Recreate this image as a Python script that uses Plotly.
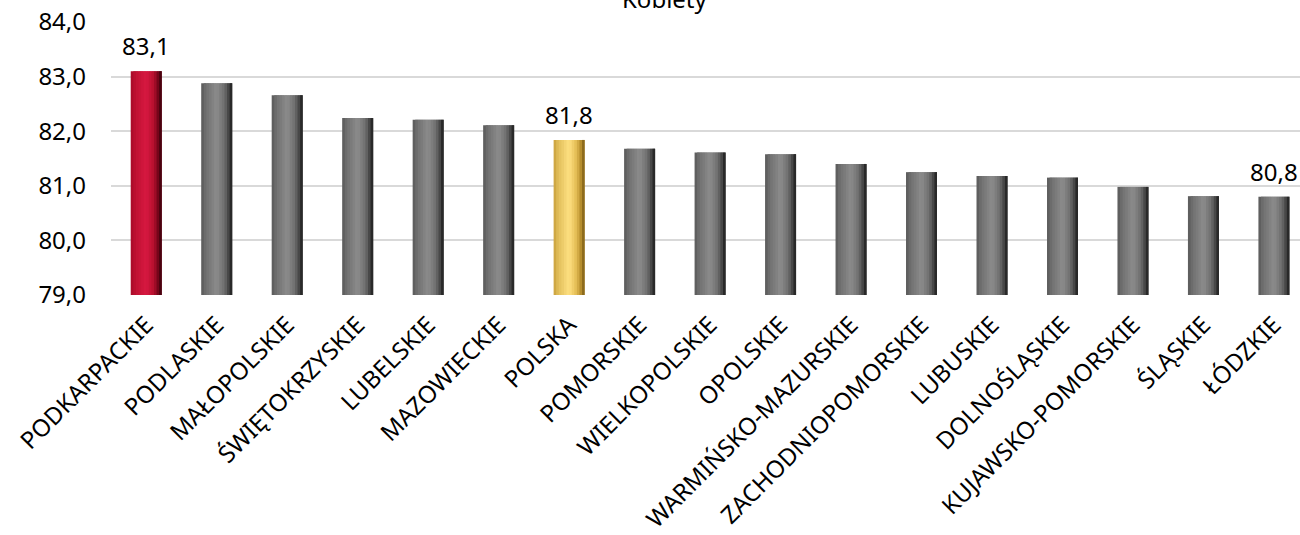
import plotly.graph_objects as go

categories = ["PODKARPACKIE", "PODLASKIE", "MAŁOPOLSKIE", "ŚWIĘTOKRZYSKIE", "LUBELSKIE",
              "MAZOWIECKIE", "POLSKA", "POMORSKIE", "WIELKOPOLSKIE", "OPOLSKIE",
              "WARMIŃSKO-MAZURSKIE", "ZACHODNIOPOMORSKIE", "LUBUSKIE", "DOLNOŚLĄSKIE",
              "KUJAWSKO-POMORSKIE", "ŚLĄSKIE", "ŁÓDZKIE"]
values = [83.1, 82.88, 82.66, 82.24, 82.21, 82.11, 81.84, 81.68, 81.61, 81.58,
          81.40, 81.25, 81.18, 81.15, 80.98, 80.81, 80.80]
labelled = ["PODKARPACKIE", "POLSKA", "ŁÓDZKIE"]
title_text = "Kobiety"
y_ticks = [79, 80, 81, 82, 83, 84]

# colour profiles across a bar, left edge -> right edge
profiles = {
    "grey": [(0.0, (88, 88, 88)), (0.15, (112, 112, 112)), (0.5, (140, 140, 140)),
             (0.75, (110, 110, 110)), (0.88, (70, 70, 70)), (1.0, (25, 25, 25))],
    "red": [(0.0, (165, 10, 40)), (0.15, (190, 16, 50)), (0.5, (215, 25, 65)),
            (0.75, (180, 15, 45)), (0.88, (115, 5, 25)), (1.0, (50, 0, 10))],
    "gold": [(0.0, (200, 160, 60)), (0.15, (225, 190, 90)), (0.5, (255, 225, 130)),
             (0.75, (225, 185, 80)), (0.88, (180, 140, 45)), (1.0, (120, 90, 20))],
}
kind = ["red" if c == "PODKARPACKIE" else "gold" if c == "POLSKA" else "grey" for c in categories]


def color_at(prof, t):
    for (t0, c0), (t1, c1) in zip(prof, prof[1:]):
        if t0 <= t <= t1:
            f = (t - t0) / (t1 - t0) if t1 > t0 else 0
            return "rgb(%d,%d,%d)" % tuple(round(a + (b - a) * f) for a, b in zip(c0, c1))
    return "rgb(%d,%d,%d)" % prof[-1][1]


BASE = 79.0
BAR_W = 0.44
N = 12
fig = go.Figure()
for i in range(N):
    t = (i + 0.5) / N
    w = BAR_W / N
    off = -BAR_W / 2 + i * w
    width = min(w * 2.0, BAR_W / 2 - off)
    fig.add_trace(go.Bar(
        x=categories, y=[v - BASE for v in values], base=BASE,
        width=width, offset=off,
        marker=dict(color=[color_at(profiles[k], t) for k in kind], line=dict(width=0)),
        hoverinfo="skip", showlegend=False))

for c, v in zip(categories, values):
    if c in labelled:
        fig.add_annotation(x=c, y=v, text=f"{v:.1f}".replace(".", ","), showarrow=False,
                           yanchor="bottom", yshift=7,
                           font=dict(size=24, color="#000000", family="Noto Sans"))

fig.add_annotation(x=0.466, y=1.02, xref="paper", yref="paper", text=title_text,
                   showarrow=False, yanchor="bottom",
                   font=dict(size=24, color="#000000", family="Noto Sans"))

fig.update_layout(
    width=1300, height=535, barmode="overlay",
    margin=dict(l=111, r=0, t=22, b=240, autoexpand=False),
    paper_bgcolor="white", plot_bgcolor="white",
    separators=", ",
    font=dict(family="Noto Sans", color="#000000"),
    xaxis=dict(range=[-0.5, 16.37], tickangle=-45, tickfont=dict(size=24),
               showgrid=False, showline=False, ticks="", automargin=False,
               ticklabelstandoff=10),
    yaxis=dict(range=[79, 84], tickvals=y_ticks, tickformat=".1f",
               tickfont=dict(size=24), showgrid=True, gridcolor="#d9d9d9",
               gridwidth=1.5, zeroline=False, showline=False, ticks="",
               ticklabelstandoff=24, automargin=False),
)
fig.write_html("out.html", config={"displayModeBar": False},
               post_script="document.body.style.margin='0';")
